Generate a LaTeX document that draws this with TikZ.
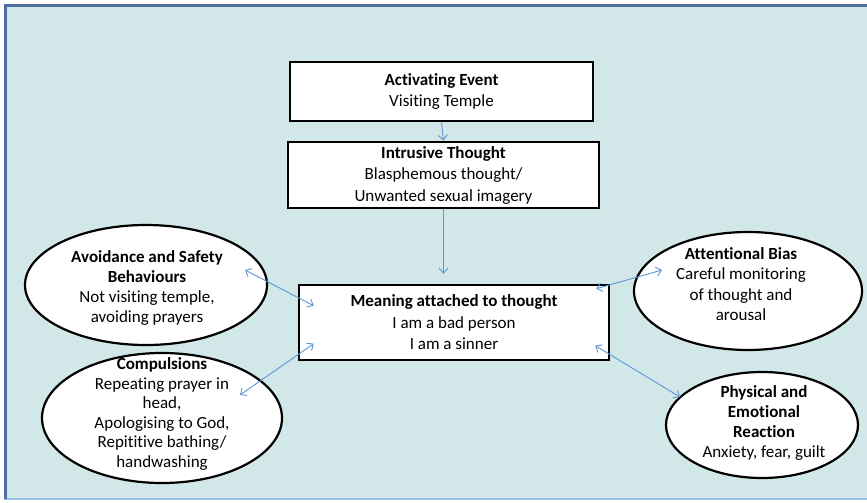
\documentclass[tikz,border=0pt]{standalone}
\usepackage{fontspec}
\setmainfont{Carlito}[Ligatures=NoCommon]
\usetikzlibrary{shapes.geometric,arrows.meta,calc}
\definecolor{panel}{RGB}{210,232,232}
\definecolor{frameDark}{RGB}{80,110,158}
\definecolor{frameLight}{RGB}{150,192,228}
\definecolor{link}{RGB}{92,150,215}
\tikzset{
  stepbox/.style={draw=black, line width=2.6pt, fill=white, inner sep=0pt,
    align=center, font=\fontsize{17}{21.5}\selectfont},
  oval/.style={draw=black, line width=2.2pt, fill=white, ellipse, inner sep=0pt},
  ovaltext/.style={align=center, inner sep=0pt, font=\fontsize{17}{20.2}\selectfont},
  conn/.style={draw=link, line width=0.9pt},
  twoway/.style={conn, {Straight Barb[length=5pt,width=9pt]}-{Straight Barb[length=5pt,width=9pt]}},
  oneway/.style={conn, -{Straight Barb[length=5pt,width=9pt]}}
}
\begin{document}
\begin{tikzpicture}[x=1pt, y=-1pt]
  \useasboundingbox (0,0) rectangle (867,503);
  % panel background and its edges
  \fill[white] (0,0) rectangle (867,503);
  \fill[panel] (4,4) rectangle (867,499);
  \draw[frameLight, line width=2pt] (4,499) -- (867,499);
  \draw[frameDark, line width=3pt] (5.5,499) -- (5.5,5.5) -- (867,5.5);

  % boxes
  \node[stepbox, minimum width=303pt, minimum height=59pt] (event) at (441.5,91.5)
    {\textbf{Activating Event}\\Visiting Temple};
  \node[stepbox, minimum width=311pt, minimum height=66pt] (intr) at (443.5,175)
    {\textbf{Intrusive Thought}\\Blasphemous thought/\\Unwanted sexual imagery};
  \node[stepbox, minimum width=310pt, minimum height=75pt] (mean) at (454,322.5)
    {\textbf{Meaning attached to thought}\\I am a bad person\\I am a sinner};

  % ovals
  \node[oval, minimum width=242pt, minimum height=120pt] (avoid) at (146,285) {};
  \node[ovaltext] (avoidtxt) at (147,288)
    {\textbf{Avoidance and Safety}\\\textbf{Behaviours}\\Not visiting temple,\\avoiding prayers};
  \node[oval, minimum width=240pt, minimum height=130pt] (comp) at (162,418) {};
  \node[ovaltext, font=\fontsize{17}{19.5}\selectfont] (comptxt) at (162,414)
    {\textbf{Compulsions}\\Repeating prayer in\\head,\\Apologising to God,\\Repititive bathing/\\handwashing};
  \node[oval, minimum width=228pt, minimum height=118pt] (att) at (748,291) {};
  \node[ovaltext] (atttxt) at (741,284)
    {\textbf{Attentional Bias}\\Careful monitoring\\of thought and\\arousal};
  \node[oval, minimum width=192pt, minimum height=106pt] (phys) at (762,425) {};
  \node[ovaltext] (phystxt) at (764,423)
    {\textbf{Physical and}\\\textbf{Emotional}\\\textbf{Reaction}\\Anxiety, fear, guilt};

  % arrow end points
  \coordinate (meanTop) at ($(intr.south |- mean.north)+(0,-10)$);
  \coordinate (avoidIn) at ($(mean.north west)+(16,22)$);
  \coordinate (compIn) at ($(mean.north west)+(16,60)$);
  \coordinate (attIn) at ($(mean.north east)+(-14,5)$);
  \coordinate (physIn) at ($(mean.north east)+(-15,62)$);
  \coordinate (avoidOut) at ($(avoid.center)+(99,-15)$);
  \coordinate (compOut) at ($(comp.center)+(78,-23)$);
  \coordinate (attOut) at ($(att.center)+(-86,-21)$);
  \coordinate (physOut) at ($(phys.center)+(-82,-28)$);

  % connectors
  \draw[oneway] (event.south) -- (intr.north);
  \draw[oneway] (intr.south) -- (meanTop);
  \draw[twoway] (avoidOut) -- (avoidIn);
  \draw[twoway] (compOut) -- (compIn);
  \draw[twoway] (attOut) -- (attIn);
  \draw[twoway] (physOut) -- (physIn);
\end{tikzpicture}
\end{document}
